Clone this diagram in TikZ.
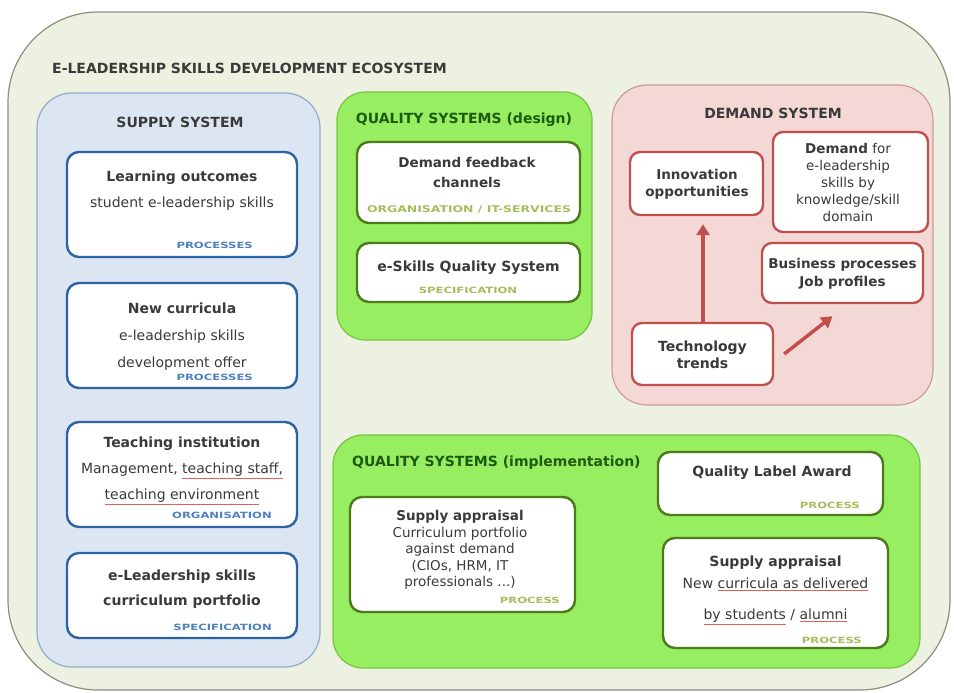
\documentclass[tikz,border=0pt]{standalone}
\usepackage{fontspec}
\setmainfont{DejaVu Sans}
\newfontfamily\labfont[FakeStretch=1.35]{DejaVu Sans}
\usetikzlibrary{arrows.meta}
\definecolor{ecofill}{HTML}{EDF1E1}
\definecolor{ecodraw}{HTML}{8E8E7C}
\definecolor{supfill}{HTML}{DCE6F2}
\definecolor{supdraw}{HTML}{8FAACB}
\definecolor{bluebox}{HTML}{2E62A6}
\definecolor{bluelab}{HTML}{4F81BD}
\definecolor{grnfill}{HTML}{96EE60}
\definecolor{grndraw}{HTML}{74C444}
\definecolor{grnbox}{HTML}{4C7A1C}
\definecolor{grntitle}{HTML}{1E5A14}
\definecolor{olivelab}{HTML}{A4BE5C}
\definecolor{pinkfill}{HTML}{F3D8D6}
\definecolor{pinkdraw}{HTML}{D09A98}
\definecolor{redbox}{HTML}{C0504D}
\definecolor{txt}{HTML}{3A3A3A}
\definecolor{ulred}{HTML}{E06060}
\newcommand\redul[1]{{\color{ulred}$\underline{\hbox{\color{txt}#1}}$}}
\tikzset{
  panel/.style={draw=#1, line width=1.2pt},
  wbox/.style={draw=#1, line width=2.4pt, fill=white, rounded corners=12pt},
  bodytxt/.style={text=txt, align=center, inner sep=0pt, font=\fontsize{14}{25}\selectfont},
  titletxt/.style={text=txt, inner sep=0pt, font=\bfseries\fontsize{14}{16}\selectfont},
  lab/.style={inner sep=0pt, font=\labfont\bfseries\fontsize{8.6}{9}\selectfont, text=#1},
  redarrow/.style={draw=redbox, line width=3.5pt, -{Triangle[length=11pt,width=13pt]}},
}
\begin{document}
\begin{tikzpicture}[x=1pt,y=-1pt]
\useasboundingbox (0,0) rectangle (954,693);
% outer ecosystem
\node[panel=ecodraw, fill=ecofill, rounded corners=90pt, minimum width=942pt, minimum height=678pt] (eco) at (479,351) {};
\node[titletxt, anchor=west] (ecot) at (52,68) {E-LEADERSHIP SKILLS DEVELOPMENT ECOSYSTEM};

% supply system
\node[panel=supdraw, fill=supfill, rounded corners=35pt, minimum width=283pt, minimum height=574pt] (sup) at (178.5,380) {};
\node[titletxt] (supt) at (180,122) {SUPPLY SYSTEM};

\node[wbox=bluebox, minimum width=230pt, minimum height=105pt] (lo) at (182,204.5) {};
\node[bodytxt, font=\fontsize{14}{26}\selectfont] (lot) at (182,191) {\textbf{Learning outcomes}\\student e-leadership skills};
\node[lab=bluelab, anchor=east] (lol) at (253,245) {PROCESSES};

\node[wbox=bluebox, minimum width=230pt, minimum height=105pt] (nc) at (182,335.5) {};
\node[bodytxt, font=\fontsize{14}{27}\selectfont] (nct) at (182,337) {\textbf{New curricula}\\e-leadership skills\\development offer};
\node[lab=bluelab, anchor=east] (ncl) at (253,377) {PROCESSES};

\node[wbox=bluebox, minimum width=230pt, minimum height=105pt] (ti) at (182,474.5) {};
\node[bodytxt, font=\fontsize{14}{26}\selectfont] (tit) at (182,471) {\textbf{Teaching institution}\\Management, \redul{teaching staff,}\\\redul{teaching environment}};
\node[lab=bluelab, anchor=east] (til) at (272,515) {ORGANISATION};

\node[wbox=bluebox, minimum width=230pt, minimum height=85pt] (cp) at (182,595.5) {};
\node[bodytxt, font=\bfseries\fontsize{14}{25}\selectfont] (cpt) at (182,589.5) {e-Leadership skills\\curriculum portfolio};
\node[lab=bluelab, anchor=east] (cpl) at (272,627) {SPECIFICATION};

% quality systems (design)
\node[panel=grndraw, fill=grnfill, rounded corners=28pt, minimum width=255pt, minimum height=248pt] (qd) at (464.5,216) {};
\node[titletxt, text=grntitle] (qdt) at (464,120) {QUALITY SYSTEMS (design)};

\node[wbox=grnbox, minimum width=223pt, minimum height=81pt] (df) at (468.5,182.5) {};
\node[bodytxt, font=\bfseries\fontsize{13.5}{20}\selectfont] (dft) at (467,172) {Demand feedback\\channels};
\node[lab=olivelab, font=\labfont\bfseries\fontsize{9.2}{10}\selectfont] (dfl) at (469,210) {ORGANISATION / IT-SERVICES};

\node[wbox=grnbox, minimum width=223pt, minimum height=59pt] (qs) at (468.5,272.5) {};
\node[titletxt] (qst) at (468.5,268) {e-Skills Quality System};
\node[lab=olivelab] (qsl) at (468,290) {SPECIFICATION};

% demand system
\node[panel=pinkdraw, fill=pinkfill, rounded corners=35pt, minimum width=321pt, minimum height=320pt] (ds) at (772.5,245) {};
\node[titletxt] (dst) at (773,113) {DEMAND SYSTEM};

\node[wbox=redbox, rounded corners=10pt, minimum width=133pt, minimum height=63pt] (inn) at (696.5,183.5) {};
\node[bodytxt, font=\bfseries\fontsize{13.5}{17}\selectfont] (innt) at (697,184.5) {Innovation\\opportunities};

\node[wbox=redbox, rounded corners=10pt, minimum width=155pt, minimum height=100pt] (dem) at (850.5,182) {};
\node[bodytxt, font=\fontsize{13.5}{17}\selectfont] (demt) at (848,182) {\textbf{Demand} for\\e-leadership\\skills by\\knowledge/skill\\domain};

\node[wbox=redbox, rounded corners=10pt, minimum width=161pt, minimum height=60pt] (bus) at (842.5,273) {};
\node[bodytxt, font=\bfseries\fontsize{13.5}{18}\selectfont] (bust) at (842.5,274) {Business processes\\Job profiles};

\node[wbox=redbox, rounded corners=10pt, minimum width=141pt, minimum height=62pt] (tech) at (702.5,354) {};
\node[bodytxt, font=\bfseries\fontsize{14}{17}\selectfont] (techt) at (702.5,355) {Technology\\trends};

\coordinate (a1s) at ([xshift=0.5pt]tech.north);
\coordinate (a1e) at ([xshift=0.5pt,yshift=-8pt]tech.north |- inn.south);
\draw[redarrow] (a1s) -- (a1e);
\coordinate (a2s) at ([xshift=10pt]tech.east);
\coordinate (a2e) at ([xshift=-10pt,yshift=-12pt]bus.south);
\draw[redarrow] (a2s) -- (a2e);

% quality systems (implementation)
\node[panel=grndraw, fill=grnfill, rounded corners=30pt, minimum width=587pt, minimum height=233pt] (qi) at (626.5,551.5) {};
\node[titletxt, text=grntitle, anchor=west] (qit) at (352,463) {QUALITY SYSTEMS (implementation)};

\node[wbox=grnbox, minimum width=225pt, minimum height=115pt] (sa1) at (462.5,554.5) {};
\node[bodytxt, font=\fontsize{13.5}{16.5}\selectfont] (sa1t) at (460,550) {\textbf{Supply appraisal}\\Curriculum portfolio\\against demand\\(CIOs, HRM, IT\\professionals ...)};
\node[lab=olivelab, anchor=east] (sa1l) at (560,600) {PROCESS};

\node[wbox=grnbox, minimum width=225pt, minimum height=63pt] (qla) at (770.5,483.5) {};
\node[titletxt] (qlat) at (772,473) {Quality Label Award};
\node[lab=olivelab, anchor=east] (qlal) at (860,505) {PROCESS};

\node[wbox=grnbox, minimum width=225pt, minimum height=110pt] (sa2) at (775.5,593) {};
\node[titletxt] (sa2t) at (775.5,563) {Supply appraisal};
\node[bodytxt] (sa2a) at (775.5,584) {New \redul{curricula as delivered}};
\node[bodytxt] (sa2b) at (775.5,617) {\redul{by students} / \redul{alumni}};
\node[lab=olivelab, anchor=east] (sa2l) at (862,640) {PROCESS};
\end{tikzpicture}
\end{document}
